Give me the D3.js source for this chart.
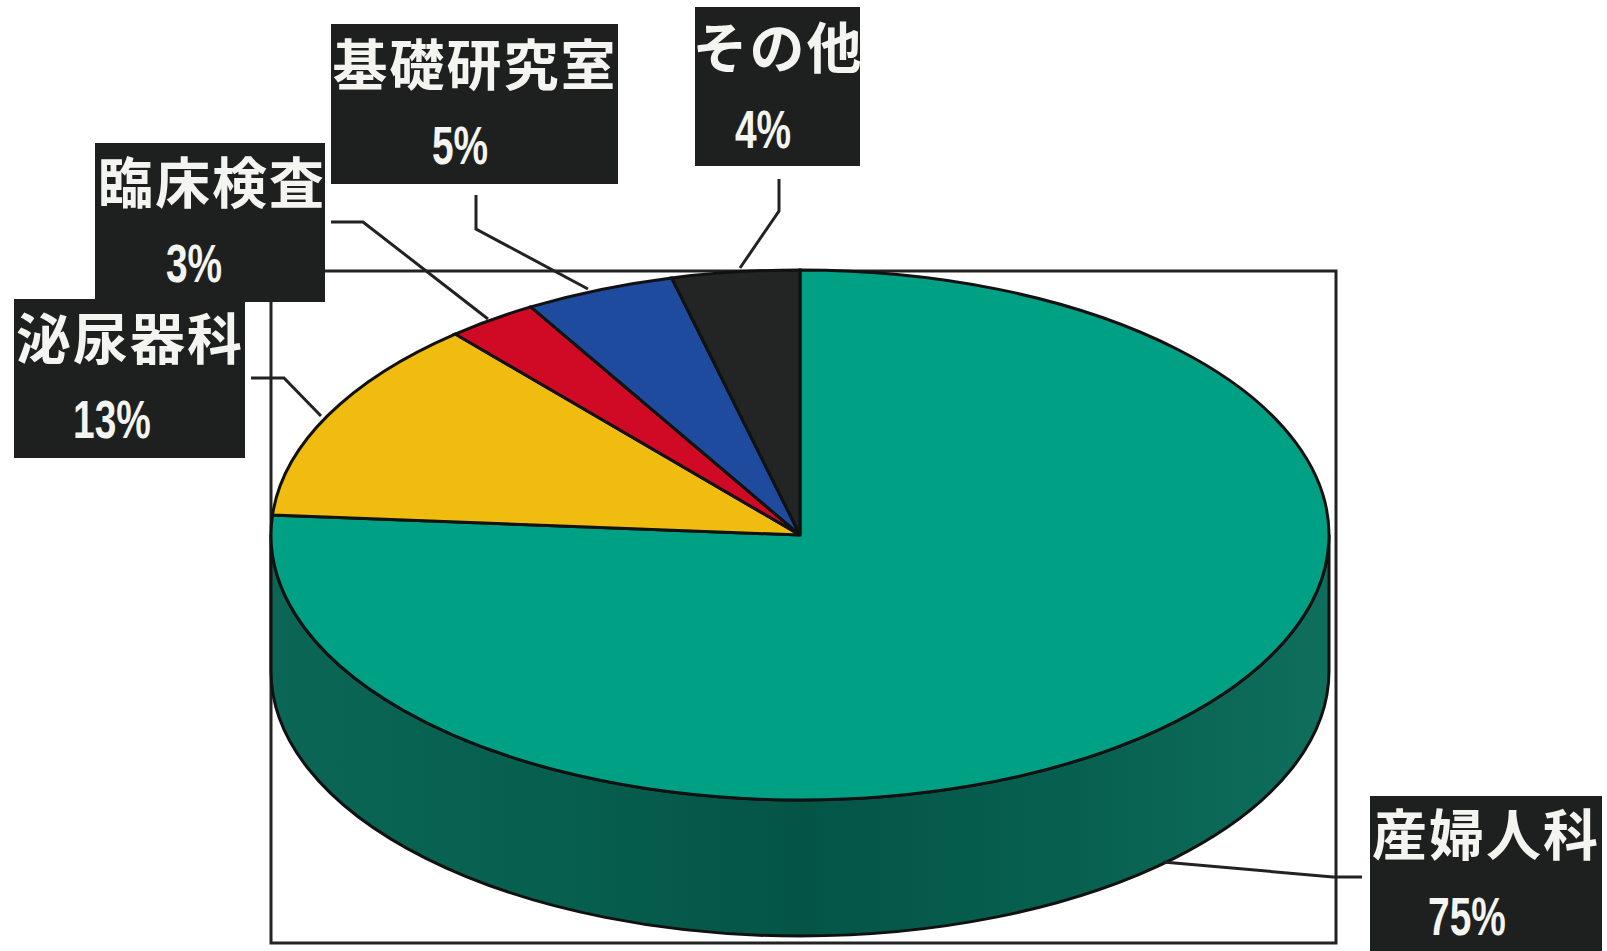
<!DOCTYPE html>
<html>
<head>
<meta charset="utf-8">
<style>
  html, body { margin: 0; padding: 0; background: #fff; }
  svg { display: block; }
  .name { font-family: "Noto Sans CJK JP"; font-weight: 700; font-size: 55px; letter-spacing: 2px; fill: #f4f4f0; text-anchor: middle; }
  .pct { font-family: "Liberation Sans"; font-weight: 700; font-size: 54px; fill: #f4f4f0; text-anchor: middle; }
</style>
</head>
<body>
<svg width="1607" height="951"></svg>
<script src="https://cdn.jsdelivr.net/npm/d3@7"></script>
<script>
  // slices run clockwise from 12 o'clock
  const categories = ['産婦人科', '泌尿器科', '臨床検査', '基礎研究室', 'その他'];
  const percentLabels = ['75%', '13%', '3%', '5%', '4%'];
  const sliceShares = [76.2, 12.5, 2.8, 4.6, 3.9]; // as drawn, the printed labels are rounded differently
  const sliceColors = ['#00a085', '#f0bc10', '#d00a25', '#1f4b9e', '#222524'];

  const svg = d3.select('svg');

  const cx = 800, cy = 535, rx = 529, ry = 265, depth = 136;
  const frame = { x0: 271, y0: 271, x1: 1336, y1: 943 };

  // label box, text anchors and leader line for each category
  const labelLayout = [
    { box: [1370, 796, 1602, 951], nameX: 1486, nameY: 855, pctX: 1467, pctY: 935, leader: [[1163, 862], [1333, 877], [1362, 877]] },
    { box: [14, 299, 245, 458], nameX: 130, nameY: 359, pctX: 112, pctY: 438, leader: [[251, 378], [284, 378], [321, 416]] },
    { box: [95, 143, 325, 302], nameX: 212, nameY: 203, pctX: 194, pctY: 282, leader: [[331, 222], [363, 222], [488, 319]] },
    { box: [331, 24, 618, 184], nameX: 475, nameY: 85, pctX: 460, pctY: 164, leader: [[476, 195], [476, 229], [588, 289]] },
    { box: [695, 7, 860, 166], nameX: 778, nameY: 68, pctX: 763, pctY: 148, leader: [[779, 179], [779, 211], [740, 268]] }
  ];

  const defs = svg.append('defs');
  const wallGrad = defs.append('linearGradient').attr('id', 'wall');
  wallGrad.selectAll('stop')
    .data([[0, '#0b6655'], [0.25, '#07604f'], [0.5, '#045547'], [0.75, '#07604f'], [1, '#0f6e5c']])
    .join('stop')
    .attr('offset', d => d[0])
    .attr('stop-color', d => d[1]);

  // frame behind the pie
  svg.append('rect')
    .attr('x', frame.x0).attr('y', frame.y0)
    .attr('width', frame.x1 - frame.x0).attr('height', frame.y1 - frame.y0)
    .attr('fill', 'none')
    .attr('stroke', '#222')
    .attr('stroke-width', 3);

  // side wall, front half of the disc
  svg.append('path')
    .attr('d', `M${cx - rx},${cy} V${cy + depth} A${rx},${ry} 0 0 0 ${cx + rx},${cy + depth} V${cy} A${rx},${ry} 0 0 1 ${cx - rx},${cy} Z`)
    .attr('fill', 'url(#wall)')
    .attr('stroke', '#111')
    .attr('stroke-width', 3);

  const pie = d3.pie().sort(null).value(d => d);
  const arc = d3.arc().innerRadius(0).outerRadius(rx);

  svg.append('g')
    .attr('transform', `translate(${cx},${cy}) scale(1,${ry / rx})`)
    .selectAll('path')
    .data(pie(sliceShares))
    .join('path')
    .attr('d', arc)
    .attr('fill', (d, i) => sliceColors[i])
    .attr('stroke', '#111')
    .attr('stroke-width', 3)
    .attr('vector-effect', 'non-scaling-stroke');

  // leader lines
  const line = d3.line();
  svg.append('g')
    .selectAll('path')
    .data(labelLayout)
    .join('path')
    .attr('d', d => line(d.leader))
    .attr('fill', 'none')
    .attr('stroke', '#222')
    .attr('stroke-width', 3);

  // labels
  const labels = svg.append('g')
    .selectAll('g')
    .data(categories)
    .join('g');

  labels.append('rect')
    .attr('x', (d, i) => labelLayout[i].box[0])
    .attr('y', (d, i) => labelLayout[i].box[1])
    .attr('width', (d, i) => labelLayout[i].box[2] - labelLayout[i].box[0])
    .attr('height', (d, i) => labelLayout[i].box[3] - labelLayout[i].box[1])
    .attr('fill', '#1e201f');

  labels.append('text')
    .attr('class', 'name')
    .attr('x', (d, i) => labelLayout[i].nameX)
    .attr('y', (d, i) => labelLayout[i].nameY)
    .text(d => d);

  // the percentages are printed in a condensed face
  labels.append('text')
    .attr('class', 'pct')
    .attr('transform', (d, i) => `translate(${labelLayout[i].pctX},${labelLayout[i].pctY}) scale(0.72,1)`)
    .text((d, i) => percentLabels[i]);
</script>
</body>
</html>
